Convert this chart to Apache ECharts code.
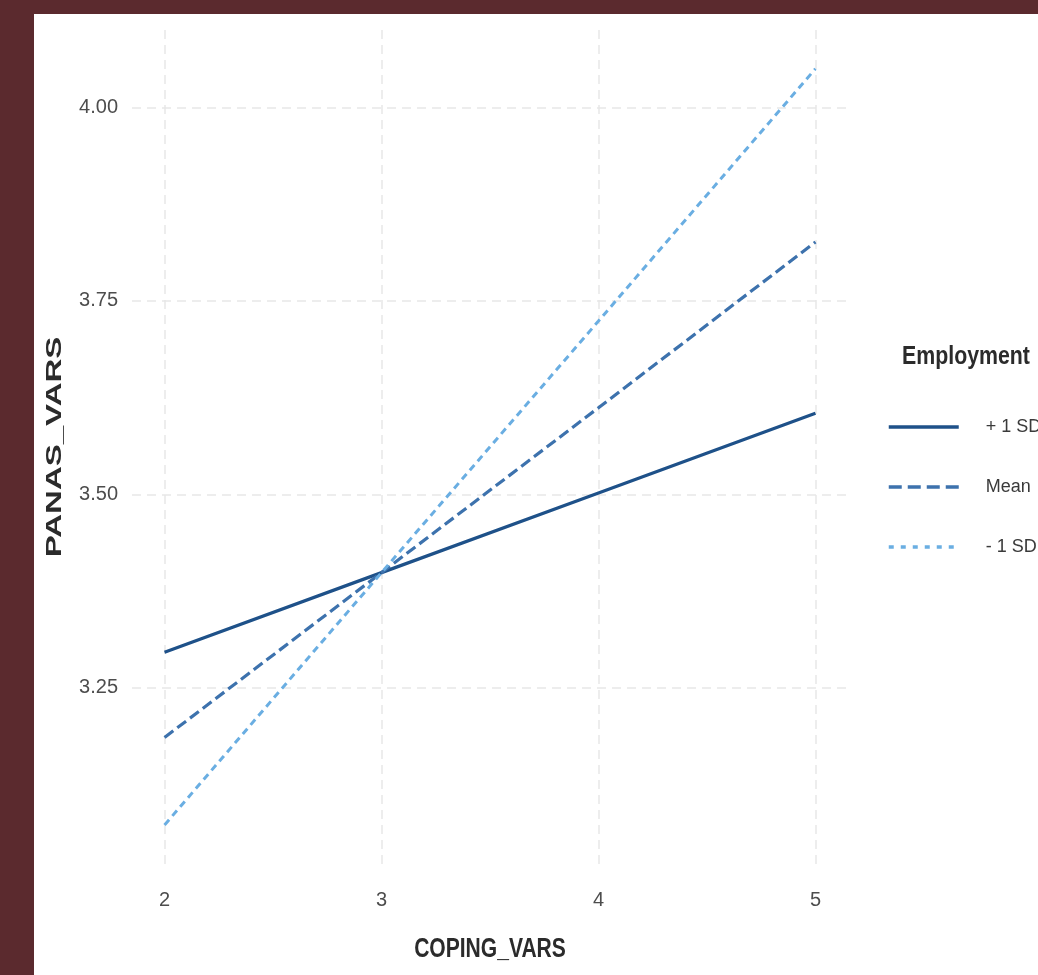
<!DOCTYPE html>
<html>
<head>
<meta charset="utf-8">
<script src="https://cdn.jsdelivr.net/npm/echarts@6/dist/echarts.min.js"></script>
<style>
    body {
        margin: 0;
        background: #5b2a2e;
        width: 1038px;
        height: 975px;
        overflow: hidden;
    }

    #chart {
        position: absolute;
        left: 34px;
        top: 14px;
        width: 1004px;
        height: 961px;
        background: #ffffff;
    }
</style>
</head>
<body>
<div id="chart"></div>
<script>
    // values
    var copingVals = [2, 3, 4, 5];
    var plusSD = [3.296, 3.399, 3.502, 3.605];
    var meanVals = [3.186, 3.399, 3.612, 3.826];
    var minusSD = [3.073, 3.399, 3.724, 4.050];
    var xTicks = [2, 3, 4, 5];
    var yTicks = [3.25, 3.50, 3.75, 4.00];

    var font = '"Liberation Sans", Arial, sans-serif';
    var gridStyle = {color: '#e8e8e8', width: 1.5, type: [9, 6]};

    function pairs(vals) {
        return copingVals.map(function (x, i) {
            return [x, vals[i]];
        });
    }

    // the reference uses a narrow face, so titles are squeezed a bit
    function label(txt, x, y, size, sx, rot) {
        return {
            type: 'text',
            x: x,
            y: y,
            rotation: rot || 0,
            scaleX: sx,
            style: {
                text: txt,
                font: 'bold ' + size + 'px ' + font,
                fill: '#2b2b2b',
                align: 'center',
                verticalAlign: 'middle'
            }
        };
    }

    var chart = echarts.init(document.getElementById('chart'));
    chart.setOption({
        animation: false,
        grid: {left: 98, right: 190, top: 16, bottom: 109},
        legend: {
            orient: 'vertical',
            left: 848,
            top: 399,
            itemWidth: 70,
            itemHeight: 20,
            itemGap: 42,
            itemStyle: {color: 'transparent', borderWidth: 0},
            lineStyle: {width: 3.5},
            textStyle: {fontFamily: font, fontSize: 18, color: '#3a3a3a', padding: [0, 0, 0, 22]},
            data: [
                {name: '+ 1 SD'},
                {name: 'Mean', lineStyle: {width: 3.5, type: [13, 6]}},
                {name: '- 1 SD', lineStyle: {width: 3.5, type: [5, 7]}}
            ]
        },
        xAxis: {
            type: 'value',
            min: 1.85,
            max: 5.15,
            axisLine: {show: false},
            axisTick: {show: false, customValues: xTicks},
            axisLabel: {customValues: xTicks, margin: 24, fontFamily: font, fontSize: 20, color: '#4d4d4d'},
            splitLine: {show: true, lineStyle: gridStyle}
        },
        yAxis: {
            type: 'value',
            min: 3.02,
            max: 4.10,
            axisLine: {show: false},
            axisTick: {show: false, customValues: yTicks},
            axisLabel: {
                customValues: yTicks, margin: 14, fontFamily: font, fontSize: 20, color: '#4d4d4d',
                formatter: function (v) { return v.toFixed(2); }
            },
            splitLine: {show: true, lineStyle: gridStyle}
        },
        graphic: [
            label('PANAS_VARS', 21, 433, 22, 1.5, Math.PI / 2),
            label('COPING_VARS', 456, 936, 27, 0.78),
            label('Employment', 932, 343, 26, 0.82)
        ],
        series: [
            {
                name: '+ 1 SD', type: 'line', symbol: 'none', data: pairs(plusSD),
                lineStyle: {color: '#1e5189', width: 3.2, type: 'solid'},
                itemStyle: {color: '#1e5189'}
            },
            {
                name: 'Mean', type: 'line', symbol: 'none', data: pairs(meanVals),
                lineStyle: {color: '#3d72ad', width: 3.2, type: [11, 5]},
                itemStyle: {color: '#3d72ad'}
            },
            {
                name: '- 1 SD', type: 'line', symbol: 'none', data: pairs(minusSD),
                lineStyle: {color: '#6aaee2', width: 3, type: [7, 5]},
                itemStyle: {color: '#6aaee2'}
            }
        ]
    });
</script>
</body>
</html>
